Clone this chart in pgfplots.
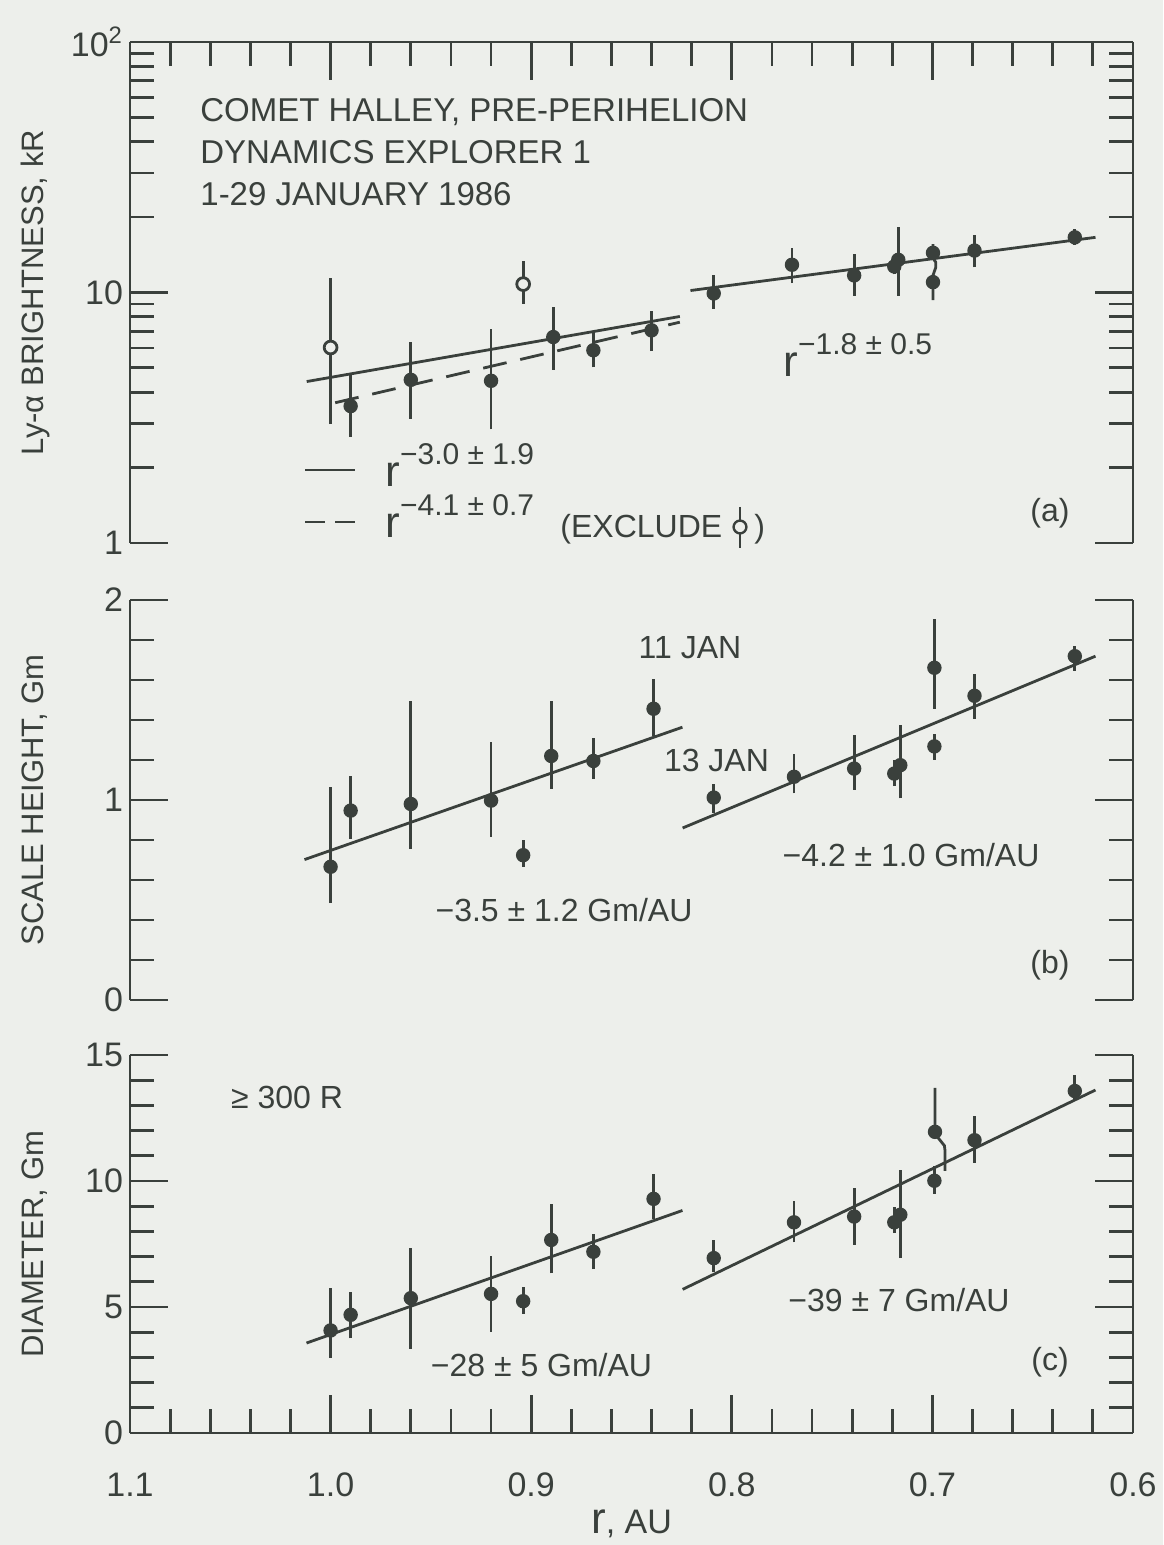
\documentclass[border=0pt]{standalone}
\usepackage{fontspec}
\setmainfont{Liberation Sans}
\usepackage{pgfplots}
\pgfplotsset{compat=1.18}
\definecolor{ink}{RGB}{58,64,60}
\definecolor{paper}{RGB}{237,239,235}
\newcommand{\rpow}[1]{{\fontsize{22}{22}\selectfont r}\raisebox{11pt}{\fontsize{15}{15}\selectfont #1}}
\tikzset{lab/.style={font=\fontsize{16}{19}\selectfont, text=ink, inner sep=0pt},
 big/.style={font=\fontsize{16.5}{19}\selectfont, text=ink, inner sep=0pt}}
\pgfplotsset{
 panel/.style={
  scale only axis, width=501.5pt,
  xmin=0.6, xmax=1.1, x dir=reverse,
  xtick={0.6,0.7,0.8,0.9,1.0,1.1},
  minor xtick={0.62,0.64,0.66,0.68,0.72,0.74,0.76,0.78,0.82,0.84,0.86,0.88,0.92,0.94,0.96,0.98,1.02,1.04,1.06,1.08},
  major tick length=19pt, minor tick length=12pt,
  tick align=inside,
  tick style={line width=1.4pt, color=ink},
  axis line style={line width=1.4pt, color=ink},
  ticklabel style={font=\fontsize{17}{17}\selectfont, text=ink},
  /pgf/number format/assume math mode=true,
  ylabel style={at={(axis description cs:-0.0947,0.5)}, anchor=center, font=\fontsize{15.5}{15.5}\selectfont, text=ink},
  clip=false,
 },
 eb/.style={ink, line width=1.4pt, unbounded coords=jump, forget plot},
 fit/.style={ink, line width=1.4pt, forget plot},
 dots/.style={only marks, mark=*, mark size=3.2pt, mark options={fill=ink, draw=ink, line width=0.8pt}, forget plot},
 opendots/.style={only marks, mark=*, mark size=3.2pt, mark options={fill=paper, draw=ink, line width=1.4pt}, forget plot},
}
\begin{document}
\begin{tikzpicture}
\fill[paper] (0,0) rectangle (581.5pt,772.5pt);
\useasboundingbox (0,0) rectangle (581.5pt,772.5pt);

% ---------------- panel (a)
\begin{axis}[panel, at={(65pt,501pt)}, anchor=south west, height=250.5pt,
  ymode=log, ymin=1, ymax=100, ytick={1,10,100}, yticklabels={1,10,10\textsuperscript{2}},
  minor ytick={2,3,4,5,6,7,8,9,20,30,40,50,60,70,80,90},
  axis x line*=top, axis y line*=box, xticklabels={},
  ylabel={Ly-α BRIGHTNESS, kR}]
\addplot[eb] coordinates {
 (1.000,2.98) (1.000,11.44) (1.000,nan)
 (0.990,2.65) (0.990,4.69) (0.990,nan)
 (0.960,3.14) (0.960,6.35) (0.960,nan)
 (0.920,2.84) (0.920,7.16) (0.920,nan)
 (0.904,9.0) (0.904,13.3) (0.904,nan)
 (0.889,4.91) (0.889,8.73) (0.889,nan)
 (0.869,5.02) (0.869,6.95) (0.869,nan)
 (0.840,5.83) (0.840,8.46) (0.840,nan)
 (0.809,8.6) (0.809,11.7) (0.809,nan)
 (0.770,10.9) (0.770,15.1) (0.770,nan)
 (0.739,9.7) (0.739,14.3) (0.739,nan)
 (0.719,11.8) (0.719,13.7) (0.719,nan)
 (0.717,9.7) (0.717,18.2) (0.717,nan)
 (0.679,12.6) (0.679,16.9) (0.679,nan)
 (0.629,15.5) (0.629,18.0)
};
\addplot[eb] coordinates {(0.6997,15.6) (0.6997,13.7) (0.6983,13.2) (0.6983,12.6) (0.6997,11.7) (0.6997,9.33)};
\addplot[fit] coordinates {(1.0119,4.41) (0.8259,8.02)};
\addplot[fit, dash pattern=on 12pt off 7pt] coordinates {(0.9977,3.63) (0.8259,7.61)};
\addplot[fit] coordinates {(0.8206,10.18) (0.6187,16.6)};
\addplot[dots] coordinates {(0.990,3.52) (0.960,4.48) (0.920,4.44) (0.889,6.64) (0.869,5.88) (0.840,7.06)
 (0.809,9.91) (0.770,12.9) (0.739,11.7) (0.719,12.7) (0.717,13.5) (0.6997,14.4) (0.6997,11.0) (0.679,14.7) (0.629,16.6)};
\addplot[opendots] coordinates {(1.000,6.03) (0.904,10.8)};
\end{axis}

% ---------------- panel (b)
\begin{axis}[panel, at={(65pt,272.5pt)}, anchor=south west, height=200pt,
  ymin=0, ymax=2, ytick={0,1,2}, yticklabels={0,1,2}, minor ytick={0.2,0.4,0.6,0.8,1.2,1.4,1.6,1.8},
  axis x line=none, axis y line*=box, xtick=\empty, minor xtick={},
  ylabel={SCALE HEIGHT, Gm}]
\addplot[eb] coordinates {
 (1.000,0.484) (1.000,1.063) (1.000,nan)
 (0.990,0.807) (0.990,1.121) (0.990,nan)
 (0.960,0.754) (0.960,1.493) (0.960,nan)
 (0.920,0.815) (0.920,1.289) (0.920,nan)
 (0.904,0.666) (0.904,0.798) (0.904,nan)
 (0.890,1.055) (0.890,1.493) (0.890,nan)
 (0.869,1.107) (0.869,1.311) (0.869,nan)
 (0.839,1.319) (0.839,1.603) (0.839,nan)
 (0.809,0.934) (0.809,1.079) (0.809,nan)
 (0.769,1.033) (0.769,1.231) (0.769,nan)
 (0.739,1.050) (0.739,1.327) (0.739,nan)
 (0.719,1.069) (0.719,1.198) (0.719,nan)
 (0.716,1.008) (0.716,1.377) (0.716,nan)
 (0.699,1.455) (0.699,1.906) (0.699,nan)
 (0.699,1.202) (0.699,1.331) (0.699,nan)
 (0.679,1.405) (0.679,1.628) (0.679,nan)
 (0.629,1.645) (0.629,1.769)
};
\addplot[fit] coordinates {(1.013,0.702) (0.8246,1.364)};
\addplot[fit] coordinates {(0.8245,0.860) (0.6187,1.719)};
\addplot[dots] coordinates {(1.000,0.666) (0.990,0.947) (0.960,0.980) (0.920,0.997) (0.904,0.724) (0.890,1.220) (0.869,1.195) (0.839,1.456)
 (0.809,1.012) (0.769,1.116) (0.739,1.157) (0.719,1.132) (0.716,1.174) (0.699,1.661) (0.699,1.268) (0.679,1.521) (0.629,1.719)};
\end{axis}

% ---------------- panel (c)
\begin{axis}[panel, at={(65pt,56pt)}, anchor=south west, height=189pt,
  ymin=0, ymax=15, ytick={0,5,10,15}, yticklabels={0,5,10,15}, minor ytick={1,2,3,4,6,7,8,9,11,12,13,14},
  axis x line*=bottom, axis y line*=box,
  xticklabels={0.6,0.7,0.8,0.9,1.0,1.1},
  xticklabel style={anchor=center, yshift=-26pt},
  ylabel={DIAMETER, Gm},
  xlabel={{\fontsize{22}{22}\selectfont r}, AU},
  xlabel style={at={(axis description cs:0.5,-0.24)}, anchor=center, font=\fontsize{17}{17}\selectfont, text=ink}]
\addplot[eb] coordinates {
 (1.000,2.98) (1.000,5.76) (1.000,nan)
 (0.990,3.75) (0.990,5.61) (0.990,nan)
 (0.960,3.35) (0.960,7.36) (0.960,nan)
 (0.920,4.01) (0.920,7.03) (0.920,nan)
 (0.904,4.73) (0.904,5.81) (0.904,nan)
 (0.890,6.33) (0.890,9.09) (0.890,nan)
 (0.869,6.50) (0.869,7.88) (0.869,nan)
 (0.839,8.50) (0.839,10.28) (0.839,nan)
 (0.809,6.37) (0.809,7.64) (0.809,nan)
 (0.769,7.56) (0.769,9.19) (0.769,nan)
 (0.739,7.47) (0.739,9.72) (0.739,nan)
 (0.719,7.93) (0.719,8.97) (0.719,nan)
 (0.716,6.94) (0.716,10.42) (0.716,nan)
 (0.699,9.50) (0.699,10.60) (0.699,nan)
 (0.679,10.72) (0.679,12.57) (0.679,nan)
 (0.629,13.17) (0.629,14.19)
};
\addplot[eb] coordinates {(0.6987,13.70) (0.6987,11.95) (0.6975,11.75) (0.6940,11.40) (0.6937,11.20) (0.6937,10.40)};
\addplot[fit] coordinates {(1.012,3.57) (0.8246,8.83)};
\addplot[fit] coordinates {(0.8245,5.70) (0.6187,13.61)};
\addplot[dots] coordinates {(1.000,4.07) (0.990,4.69) (0.960,5.35) (0.920,5.52) (0.904,5.23) (0.890,7.66) (0.869,7.19) (0.839,9.29)
 (0.809,6.94) (0.769,8.36) (0.739,8.59) (0.719,8.36) (0.716,8.66) (0.6987,11.95) (0.699,10.01) (0.679,11.62) (0.629,13.57)};
\end{axis}

% ---------------- annotations
\node[big, anchor=base west] at (100pt,711.5pt) {COMET HALLEY, PRE-PERIHELION};
\node[big, anchor=base west] at (100pt,690.5pt) {DYNAMICS EXPLORER 1};
\node[big, anchor=base west] at (100pt,669.5pt) {1-29 JANUARY 1986};
\node[lab, anchor=base west] at (391.5pt,584pt) {\rpow{−1.8 ± 0.5}};
\draw[ink, line width=1.4pt] (152.5pt,537.5pt) -- (177.5pt,537.5pt);
\draw[ink, line width=1.4pt, dash pattern=on 10pt off 5pt] (152.5pt,511.5pt) -- (177.5pt,511.5pt);
\node[lab, anchor=base west] at (192.5pt,529pt) {\rpow{−3.0 ± 1.9}};
\node[lab, anchor=base west] at (192.5pt,503.5pt) {\rpow{−4.1 ± 0.7}};
\node[lab, anchor=base west] at (280pt,503.5pt) {(EXCLUDE};
\draw[ink, line width=1.4pt] (370pt,519pt) -- (370pt,498.5pt);
\filldraw[fill=paper, draw=ink, line width=1.2pt] (370pt,509pt) circle (3.2pt);
\node[lab, anchor=base west] at (377pt,503.5pt) {)};
\node[lab] at (525pt,516pt) {(a)};
\node[lab] at (345pt,448.5pt) {11 JAN};
\node[lab] at (358.25pt,392.5pt) {13 JAN};
\node[lab] at (282pt,317.5pt) {−3.5 ± 1.2 Gm/AU};
\node[lab] at (455.5pt,345pt) {−4.2 ± 1.0 Gm/AU};
\node[lab] at (525pt,290pt) {(b)};
\node[lab] at (143.5pt,224pt) {≥ 300 R};
\node[lab] at (270.75pt,90pt) {−28 ± 5 Gm/AU};
\node[lab] at (449.5pt,122.5pt) {−39 ± 7 Gm/AU};
\node[lab] at (525pt,91.5pt) {(c)};
\end{tikzpicture}
\end{document}
